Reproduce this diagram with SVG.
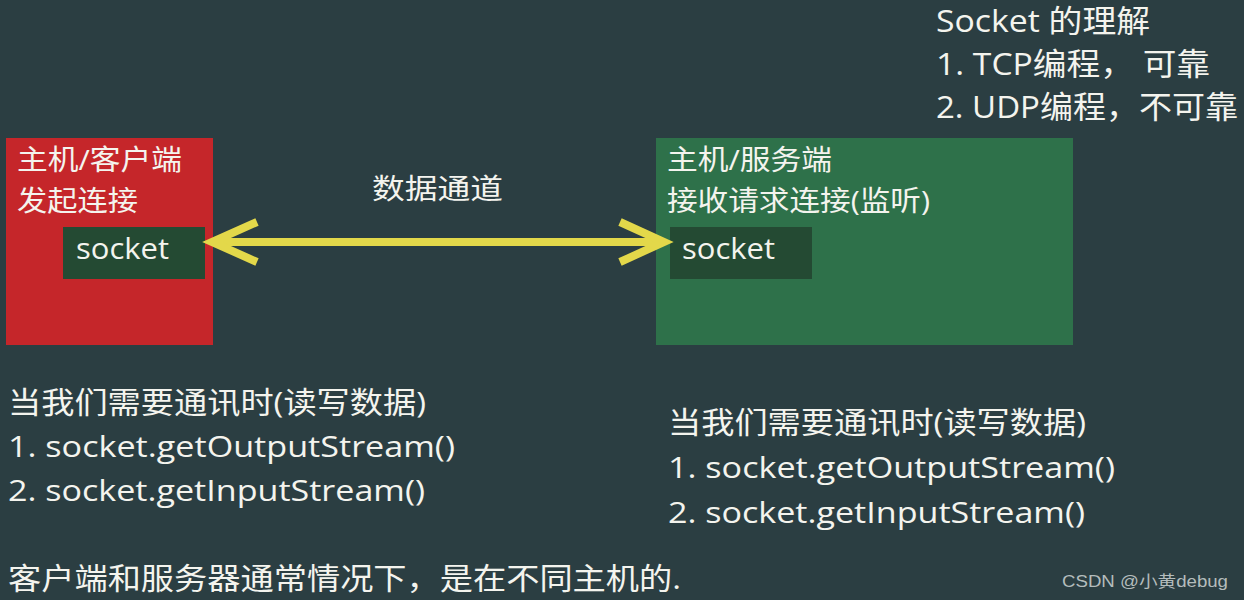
<svg xmlns="http://www.w3.org/2000/svg" width="1244" height="600" viewBox="0 0 1244 600">
<style>
  text { font-family: "Open Sans", "Noto Sans", "Noto Sans CJK SC", sans-serif; fill: #f4f4ee; }
  .t30 { font-size: 31px; }
  .t28 { font-size: 30px; }
  .t26 { font-size: 28px; }
  .sock { fill: #244a33; }
  .arrow { stroke: #e3d84a; stroke-width: 8; fill: none; stroke-linecap: butt; }
</style>
<rect x="0" y="0" width="1244" height="600" fill="#2b3e42"/>

<g id="note-top">
  <text class="t30" x="936" y="32" textLength="214" lengthAdjust="spacingAndGlyphs">Socket 的理解</text>
  <text class="t30" x="936" y="75" textLength="274" lengthAdjust="spacingAndGlyphs">1. TCP编程，  可靠</text>
  <text class="t30" x="936" y="118" textLength="302" lengthAdjust="spacingAndGlyphs">2. UDP编程，不可靠</text>
</g>

<g id="client">
  <rect x="6" y="138" width="207" height="207" fill="#c5262a"/>
  <text class="t26" x="17" y="170" textLength="165" lengthAdjust="spacingAndGlyphs">主机/客户端</text>
  <text class="t26" x="17" y="211" textLength="121" lengthAdjust="spacingAndGlyphs">发起连接</text>
  <g id="client-socket">
    <rect class="sock" x="63" y="227" width="142" height="52"/>
    <text class="t28" x="76" y="259" textLength="93" lengthAdjust="spacingAndGlyphs">socket</text>
  </g>
</g>

<g id="server">
  <rect x="656" y="138" width="417" height="207" fill="#2e714a"/>
  <text class="t26" x="667" y="170" textLength="165" lengthAdjust="spacingAndGlyphs">主机/服务端</text>
  <text class="t26" x="667" y="211" textLength="263" lengthAdjust="spacingAndGlyphs">接收请求连接(监听)</text>
  <g id="server-socket">
    <rect class="sock" x="670" y="227" width="142" height="52"/>
    <text class="t28" x="682" y="259" textLength="93" lengthAdjust="spacingAndGlyphs">socket</text>
  </g>
</g>

<g id="connectors">
  <line class="arrow" x1="212" y1="242" x2="664" y2="242"/>
  <polyline class="arrow" points="257,222 212,242 257,262"/>
  <polyline class="arrow" points="620,222 664,242 620,262"/>
  <text class="t26" x="372" y="199" textLength="131" lengthAdjust="spacingAndGlyphs">数据通道</text>
</g>

<g id="client-notes">
  <text class="t28" x="8" y="413" textLength="418" lengthAdjust="spacingAndGlyphs">当我们需要通讯时(读写数据)</text>
  <text class="t28" x="8" y="457" textLength="447" lengthAdjust="spacingAndGlyphs">1. socket.getOutputStream()</text>
  <text class="t28" x="8" y="501" textLength="417" lengthAdjust="spacingAndGlyphs">2. socket.getInputStream()</text>
</g>

<g id="server-notes">
  <text class="t28" x="668" y="433" textLength="418" lengthAdjust="spacingAndGlyphs">当我们需要通讯时(读写数据)</text>
  <text class="t28" x="668" y="478" textLength="447" lengthAdjust="spacingAndGlyphs">1. socket.getOutputStream()</text>
  <text class="t28" x="668" y="523" textLength="417" lengthAdjust="spacingAndGlyphs">2. socket.getInputStream()</text>
</g>

<g id="footer">
  <text class="t28" x="8" y="589" textLength="673" lengthAdjust="spacingAndGlyphs">客户端和服务器通常情况下，是在不同主机的.</text>
  <text x="1062" y="587" style="font-size:16px; fill:#b4bcbc; font-family:'Liberation Sans','Noto Sans CJK SC',sans-serif" textLength="166" lengthAdjust="spacingAndGlyphs">CSDN @小黄debug</text>
</g>
</svg>
